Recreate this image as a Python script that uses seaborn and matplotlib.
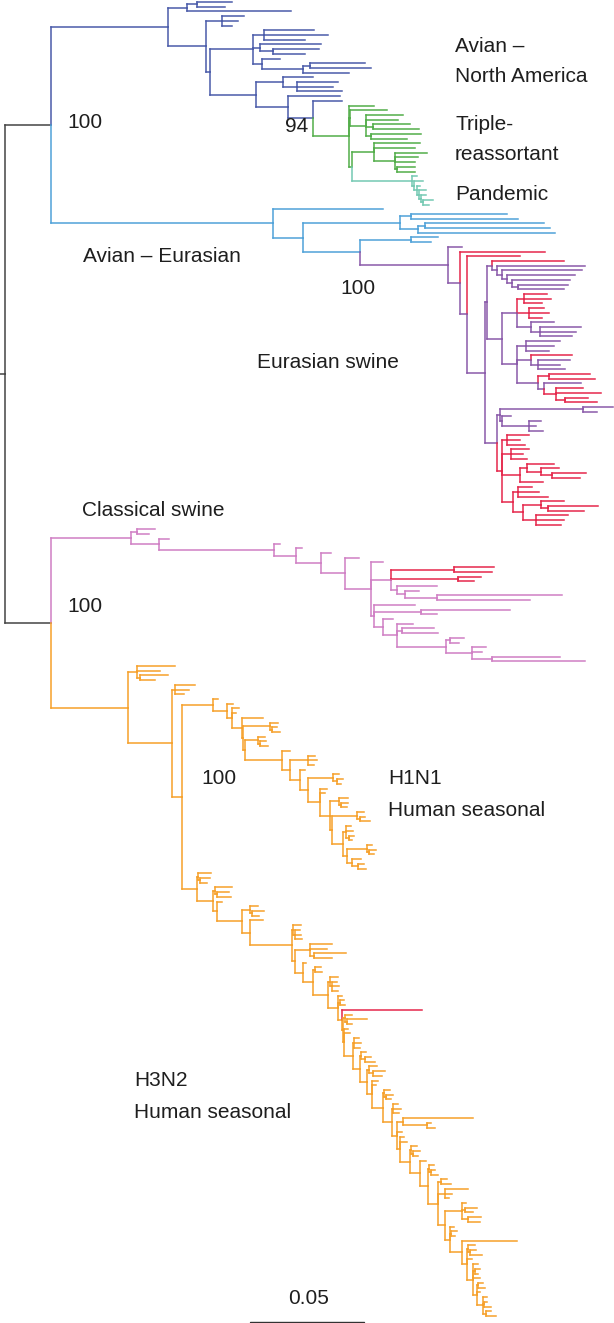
import matplotlib
matplotlib.use("Agg")
import matplotlib.pyplot as plt
from matplotlib.collections import LineCollection
import seaborn as sns

# Branch lengths are in units of 0.001 substitutions per site (scale bar = 50 units).
# Leaf name "r" marks a red-highlighted sequence; node labels tag the clade colour.

# Avian - North America (blue) with the triple-reassortant and pandemic clades nested in it
PANDEMIC = "(:2,(:4,(:1.5,(:3,(:2,(:4,:2.5):1):1):1):1):1)pd:26.5"
TRIPLE = ("(:11,(:16,(:16,:14,(:16,:20):3,(:22,:16):2):7):0.5,"
          "((:20,:18,(:14,:10,:9,(:8,:8):1):9):10," + PANDEMIC + "):1)tr:16")
NA_TOP = "((:15.6,:12.5):4,:45.5):8.5"
NA_R1 = "(:10,:7,:4.5):7"
NA_R2A = "((:22,:28,:18):5,(:27,(:20,:14):6):3,(:8,((:24,:27):3,:20):18):4):18.7"
NA_U1 = "(:13,(:18,:16,:20):6):12"
NA_U2 = "(:23,(:13," + TRIPLE + "):11):14"
AVIAN_NA = ("(" + NA_TOP + ",(" + NA_R1 + ",(" + NA_R2A + ",(" + NA_U1 + "," + NA_U2
            + "):20):2):16.5)na:51.5")

# Eurasian swine (purple, with red sequences)
ES_U1 = "(r:31.4,(:38.6,(:35,(:29.8,(:25.6,(:22,:20):2.6):2.2):2.2):2.2):2.2):2.2"
ES_U2A = "((r:10,r:12,r:8):3,(r:7,r:9,r:6):5,(:10,(:18,:16,:14):4):6):6.6"
ES_U2B = ("((:15,:12,:10):4,(r:18,(:14,:10,:12):3):6,"
          "((r:18,r:20):5,(:16,(r:12,r:20,(r:10,r:14):4):5):3):9):6.6")
ES_L1 = "((:13.2,:6.1):36.5,(:4,(:5,:3,:6):12):1):1.2"
ES_L2 = ("((r:10,r:6,r:8):2,(r:8,r:5,r:7):4,((r:12,(r:8,(r:15,r:12):5):6):3,r:10):8,"
         "((r:6,r:9,r:13):2,((r:10,(r:22,r:16):3):8,(r:14,r:12,r:11):6):4):5):2.2")
EURASIAN_SWINE = ("(:6.1,(r:37.2,(r:23.3,((" + ES_U1 + ",(" + ES_U2A + "," + ES_U2B
                  + "):6.6):0.9,(" + ES_L1 + "," + ES_L2 + "):5.3):7.9):3):5.3)es:38.6")

# Avian - Eurasian (light blue)
AVIAN_EURASIAN = ("(:48.3,(((:42,:47):5,((:52,:55):3,:60):8):42.5,((:12,:9):22.3,"
                  + EURASIAN_SWINE + "):25):13.2)ae:97.5")

# Ladders: (branch length to node, side subtrees of that node)
CLASSICAL_STEPS = [
    (35.3, "(:7.8,:5):2.7"),
    (12.2, ":4.4"),
    (50.5, ":2.6"),
    (9.6, ":2.7"),
    (11, ":4.4"),
    (10.5, ":6.2"),
    (11.4, ":5.3,((r:17.6,r:16.7):27.6,(r:10,r:7):29.4,(:17.6,(:6.2,(:54.8,:40.8):14.1):3.5):2.6):8.8"),
    (1.5, ":18,(:39,:7):20.5"),
    (3.8, ":4.2"),
    (6.1, ":7.1,(:14,:16):2.1"),
    (21.5, "(:6.1,:3.8):1.8"),
    (11.4, ":6.2,:4.2"),
    (8.8, ":29.8,:40.8"),
]

H1N1_STEPS = [
    (13.6, ":2"), (6.2, ":2.5"), (2.2, ":3,:1.5"), (4.3, ":9.3"),
    (0.6, "(:3.5,(:2,:3.5):1):11.7"), (0.8, "(:3,(:2.5,:3.5):1):5.7"),
    (16.2, ":3.5"), (3.5, "(:3,:4,:2.5):7.9"), (4.4, ":2"),
    (3.5, "(:2.5,(:3,:2):1.5):11"), (5.3, ":3,:2"), (4.3, "(:4,(:3,:2.5):1):4"),
    (1, "(:3,(:2,:4):1.5):10.9"), (4.7, "(:2,:3,(:2.5,:1.5):1):1.5"),
    (1.8, "(:2,(:3,:2):1):8.8"), (2, ":4,(:2.5,:3.5):3"),
]

H3N2_STEPS = [
    (6.6, "(:5.7,(:4,:3):1):0.5"), (7, "(:7.5,(:5,:6):1):0.9"), (1.8, ":2"),
    (10.9, "(:3.6,(:4.9,:3):1):3.6"), (3.6, ":5.7"),
    (18.4, "(:3.5,(:2,:2.5,:3):0.8):0.5"), (1.1, "(:9.6,:7.5,(:14.4,:8):1.5):6.8"),
    (3.7, ":1.5"), (4.4, "(:2.5,:3):1"), (6.6, "(:3.5,(:2,:3,:2.5):1):0.8"),
    (4.3, ":2,(:1.5,:2):1"), (1.8, "r:35.1"), (0.4, "(:3,(:8.4,:2):1):1"),
    (0.4, ":2,:2.5"), (4, "(:2,:3.1,:2.5):0.5"), (3.1, "(:2,(:3,:4.5):1.5):0.5"),
    (3.1, "(:3.4,(:5.5,:4):1.5):1"), (2.2, ":2.5,:1.8"), (4.8, "(:2.5,(:3,:2):1):0.5"),
    (3.9, "(:2,:3.5,:2.5):0.5"), (2.2, "(:30.7,(:2,:3.5):10.4):2.7,:2.4"),
    (1.3, ":2,:3"), (4.4, "(:2.5,(:3,:2):1):0.5"), (4.4, ":2.5"),
    (3.5, "(:2,(:1.5,:3):1):0.5"), (4.4, "(:2.5,:4):1.5,(:10,:3,:1.5):3.2"),
    (3.1, "(:2,(:5,:3.5):1.5,(:6,:5.5):2.5):7.4"), (2, ":2,(:2.5,:1.5):0.8"),
    (5.4, ":24.2"), (2.2, "(:3,(:2.5,:4.9):1):0.5,:2"), (2.7, ":2,(:2.5,:1.5):0.7,:3"),
    (1.7, "(:2,:3):0.5,:1.5"), (2.6, ":2,(:1.5,:3):0.5,(:2,:4.4):1.5"),
]

CLADE_COLORS = {
    "na": "#4a5ba9", "tr": "#52ad49", "pd": "#74c9b3", "ae": "#4fa2d9",
    "es": "#8a5aaa", "cs": "#d07fc4", "hu": "#f6a02a",
}
RED = "#e5274b"
BACKBONE = "#444444"

CLADE_LABELS = [
    ("Avian \u2013", 455, 47), ("North America", 455, 77),
    ("Triple-", 455, 124), ("reassortant", 455, 154), ("Pandemic", 455, 195),
    ("Avian \u2013 Eurasian", 83, 257), ("Eurasian swine", 257, 362),
    ("Classical swine", 82, 510), ("H1N1", 388, 779), ("Human seasonal", 388, 811),
    ("H3N2", 134, 1080), ("Human seasonal", 134, 1112),
]
SUPPORT_LABELS = [("100", 67, 122), ("94", 285, 127), ("100", 340, 289),
                  ("100", 67, 607), ("100", 201, 779)]
SCALE_BAR = 50  # 0.05 substitutions/site


def ladder(steps, tag=""):
    sub = None
    for i in range(len(steps) - 1, -1, -1):
        length, sides = steps[i]
        body = sides if sub is None else sides + "," + sub
        sub = "(" + body + ")" + (tag if i == 0 else "") + ":" + str(length)
    return sub


CLASSICAL_SWINE = ladder(CLASSICAL_STEPS, "cs")
HUMAN = ("((:16.7,:10,(:12.3,:6.6):1.3):4,((:8.7,:6,:4):1.4,("
         + ladder(H1N1_STEPS) + "," + ladder(H3N2_STEPS) + "):4.4):19.3)hu:33.9")
TREE = "((" + AVIAN_NA + "," + AVIAN_EURASIAN + "):20,(" + CLASSICAL_SWINE + "," + HUMAN + "):20):2.2;"


def parse_newick(text):
    text = text.replace(" ", "").rstrip(";")
    pos = 0

    def read():
        nonlocal pos
        node = {"kids": [], "name": "", "len": 0.0}
        if text[pos] == "(":
            pos += 1
            node["kids"].append(read())
            while text[pos] == ",":
                pos += 1
                node["kids"].append(read())
            pos += 1
        start = pos
        while pos < len(text) and text[pos] not in ":,()":
            pos += 1
        node["name"] = text[start:pos]
        if pos < len(text) and text[pos] == ":":
            pos += 1
            start = pos
            while pos < len(text) and text[pos] not in ",()":
                pos += 1
            node["len"] = float(text[start:pos])
        return node

    return read()


def layout(node, x0, color, counter):
    node["x"] = x0 + node["len"]
    node["color"] = CLADE_COLORS.get(node["name"], color)
    if node["kids"]:
        for k in node["kids"]:
            layout(k, node["x"], node["color"], counter)
        node["y"] = (node["kids"][0]["y"] + node["kids"][-1]["y"]) / 2
        node["red"] = all(k["red"] for k in node["kids"])
    else:
        node["y"] = counter[0]
        counter[0] += 1
        node["red"] = node["name"] == "r"


def collect(node, parent_x, segs, cols):
    c = RED if node["red"] else node["color"]
    segs.append([(parent_x, node["y"]), (node["x"], node["y"])])
    cols.append(c)
    for k in node["kids"]:
        segs.append([(node["x"], node["y"]), (node["x"], k["y"])])
        cols.append(RED if k["red"] else k["color"])
        collect(k, node["x"], segs, cols)


root = parse_newick(TREE)
counter = [0]
layout(root, 0.0, BACKBONE, counter)
n_leaves = counter[0]
segs, cols = [], []
collect(root, 0.0, segs, cols)

sns.set_theme(style="white")
plt.rcParams["font.family"] = ["Liberation Sans", "DejaVu Sans"]

W, H = 614, 1323
fig = plt.figure(figsize=(W / 100, H / 100), dpi=100)
ax = fig.add_axes([0, 0, 1, 1])
px_per_unit = 2.28
step = 1314 / (n_leaves - 1)
ax.set_xlim(0, W / px_per_unit)
ax.set_ylim((H - 2) / step, -2 / step)
ax.add_collection(LineCollection(segs, colors=cols, linewidths=1.1, capstyle="projecting"))

for text, x, y in CLADE_LABELS + SUPPORT_LABELS:
    fig.text(x / W, 1 - y / H, text, ha="left", va="center", fontsize=15, color="#1e1e1e")

bar_x0 = 250 / px_per_unit
bar_y = 1320 / step
ax.plot([bar_x0, bar_x0 + SCALE_BAR], [bar_y, bar_y], color="#333333", lw=1.0)
fig.text(309 / W, 1 - 1299 / H, "0.05", ha="center", va="center", fontsize=15, color="#1e1e1e")

ax.set_axis_off()
sns.despine(ax=ax, left=True, bottom=True)
fig.savefig("out.png", dpi=100)
